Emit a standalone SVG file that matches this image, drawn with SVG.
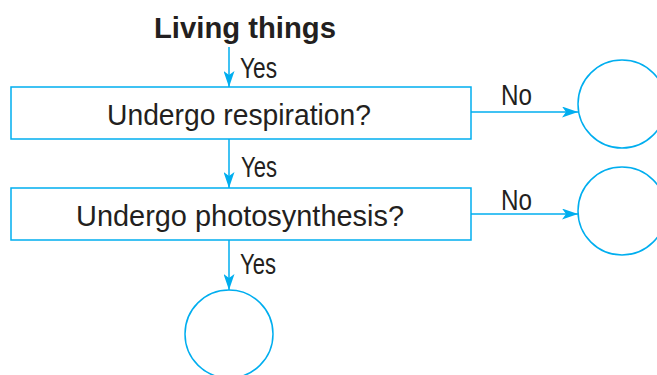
<svg xmlns="http://www.w3.org/2000/svg" width="657" height="375" viewBox="0 0 657 375">
<style>
.shape{fill:none;stroke:#00aeef;stroke-width:1.5}
.conn{fill:none;stroke:#00aeef;stroke-width:1.5}
.t{font-family:"Liberation Sans",Arial,sans-serif;fill:#231f20}
.box{font-size:30px}
.lbl{font-size:29px}
.title{font-size:30px;font-weight:bold}
</style>
<defs>
<marker id="ah" viewBox="0 0 16 11" refX="16" refY="5.5" markerWidth="16" markerHeight="11" markerUnits="userSpaceOnUse" orient="auto">
<path d="M0,0 L16,5.5 L0,11 L4,5.5 Z" fill="#00aeef"/>
</marker>
</defs>
<g id="title">
<text class="t title" x="154" y="38" textLength="182" lengthAdjust="spacingAndGlyphs">Living things</text>
</g>
<g id="box1">
<rect class="shape" x="11" y="87" width="460" height="52"/>
<text class="t box" x="107" y="125" textLength="264" lengthAdjust="spacingAndGlyphs">Undergo respiration?</text>
</g>
<g id="box2">
<rect class="shape" x="11" y="188" width="460" height="52"/>
<text class="t box" x="76" y="225.5" textLength="328" lengthAdjust="spacingAndGlyphs">Undergo photosynthesis?</text>
</g>
<g id="circle1">
<circle class="shape" cx="622" cy="104" r="44"/>
</g>
<g id="circle2">
<circle class="shape" cx="622" cy="211" r="44"/>
</g>
<g id="circle3">
<circle class="shape" cx="229" cy="334" r="44"/>
</g>
<g id="connectors">
<line class="conn" x1="229" y1="47" x2="229" y2="87" marker-end="url(#ah)"/>
<line class="conn" x1="229" y1="139" x2="229" y2="188" marker-end="url(#ah)"/>
<line class="conn" x1="229" y1="240" x2="229" y2="290" marker-end="url(#ah)"/>
<line class="conn" x1="471" y1="112" x2="578" y2="112" marker-end="url(#ah)"/>
<line class="conn" x1="471" y1="214" x2="578" y2="214" marker-end="url(#ah)"/>
<text class="t lbl" x="240" y="78" textLength="37" lengthAdjust="spacingAndGlyphs">Yes</text>
<text class="t lbl" x="241" y="176.5" textLength="36" lengthAdjust="spacingAndGlyphs">Yes</text>
<text class="t lbl" x="240" y="273.5" textLength="36" lengthAdjust="spacingAndGlyphs">Yes</text>
<text class="t lbl" x="501" y="105" textLength="31" lengthAdjust="spacingAndGlyphs">No</text>
<text class="t lbl" x="501" y="210" textLength="31" lengthAdjust="spacingAndGlyphs">No</text>
</g>
</svg>
